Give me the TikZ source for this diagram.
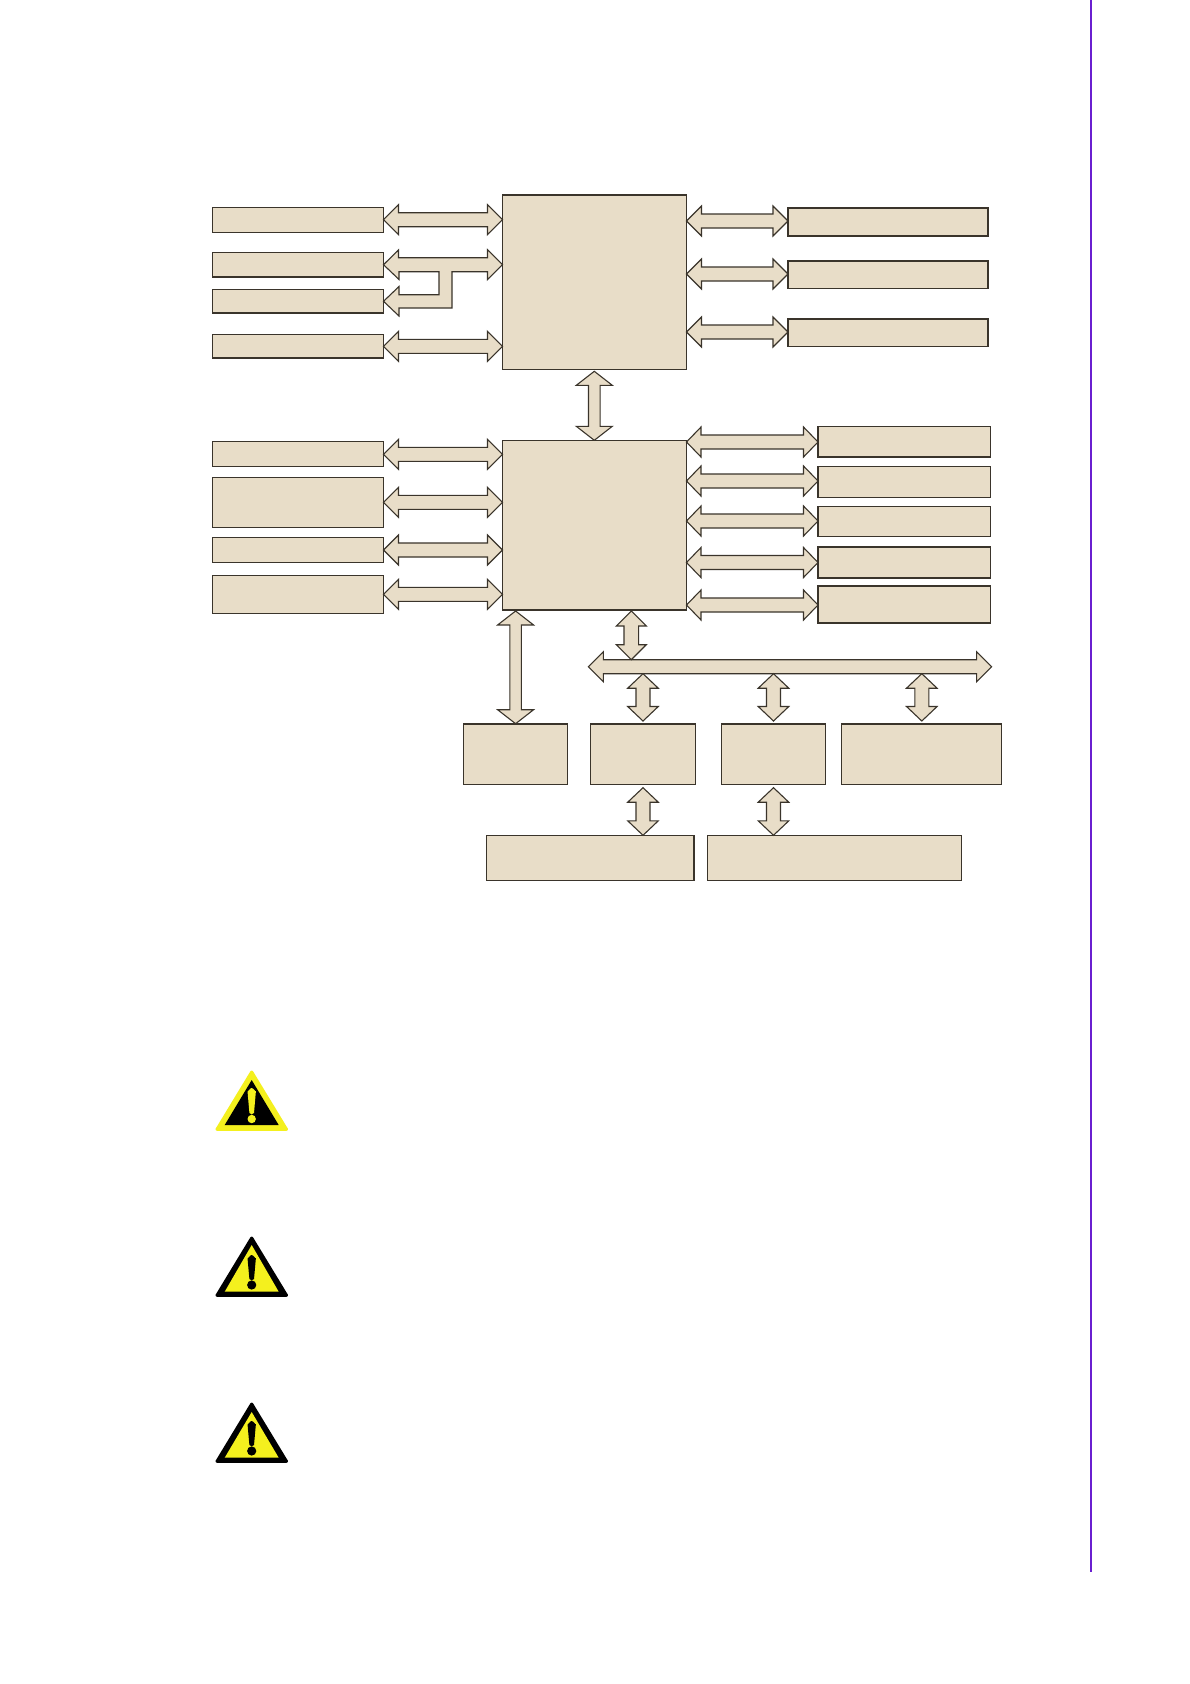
\documentclass[tikz,border=0pt]{standalone}
\usetikzlibrary{calc}
\definecolor{sand}{HTML}{E8DDC8}
\definecolor{ink}{HTML}{3A342B}
\definecolor{rulepurple}{HTML}{6A1FD0}
\definecolor{signyellow}{HTML}{F4F01E}
\tikzset{
  x=1pt,y=-1pt,
  blockbox/.style={draw=ink,fill=sand,line width=1.1pt,inner sep=0pt,outer sep=0pt},
  flow/.style={draw=ink,fill=sand,line width=1.1pt,line join=miter},
  heavyedge/.style={draw=ink,line width=2pt},
}
% \Bx{name}{x1}{y1}{x2}{y2}
\newcommand\Bx[5]{\node[blockbox,minimum width={(#4-#2)*1pt},minimum height={(#5-#3)*1pt}] (#1) at ({(#2+#4)/2},{(#3+#5)/2}) {};}
% horizontal double block arrow: left end, right end, head length, shaft half, head half
\newcommand\HDA[5]{\draw[flow] let \p1=(#1),\p2=(#2) in
  (\p1) -- ({\x1+#3pt},{\y1+#5pt}) -- ({\x1+#3pt},{\y1+#4pt}) -- ({\x2-#3pt},{\y1+#4pt}) -- ({\x2-#3pt},{\y1+#5pt}) -- (\x2,\y1)
  -- ({\x2-#3pt},{\y1-#5pt}) -- ({\x2-#3pt},{\y1-#4pt}) -- ({\x1+#3pt},{\y1-#4pt}) -- ({\x1+#3pt},{\y1-#5pt}) -- cycle;}
% vertical double block arrow: top end, bottom end, head length, shaft half, head half
\newcommand\VDA[5]{\draw[flow] let \p1=(#1),\p2=(#2) in
  (\p1) -- ({\x1+#5pt},{\y1-#3pt}) -- ({\x1+#4pt},{\y1-#3pt}) -- ({\x1+#4pt},{\y2+#3pt}) -- ({\x1+#5pt},{\y2+#3pt}) -- (\x1,\y2)
  -- ({\x1-#5pt},{\y2+#3pt}) -- ({\x1-#4pt},{\y2+#3pt}) -- ({\x1-#4pt},{\y1-#3pt}) -- ({\x1-#5pt},{\y1-#3pt}) -- cycle;}
% warning sign
\newcommand\Warn[9]{%
  \fill[#2,draw=#2,line width=3pt,line join=round] (251.7,#1+2) -- (286.5,{#1+59.3}) -- (217,{#1+59.3}) -- cycle;
  \fill[#3] (251.7,#4) -- ({251.7+#6},#5) -- ({251.7-#6},#5) -- cycle;
  \fill[#9] (247.5,#7+3) to[out=-90,in=180] (251.7,#7) to[out=0,in=-90] (255.9,#7+3)
     -- (254,#8) to[out=90,in=0] (251.7,#8+1.5) to[out=180,in=90] (249.4,#8) -- cycle;
}
\begin{document}
\begin{tikzpicture}
\useasboundingbox (0,0) rectangle (1190,1684);
\fill[white] (0,0) rectangle (1190,1684);
% margin rule
\fill[rulepurple] (1090,0) rectangle (1092,1572);

% central blocks
\Bx{MA}{502.5}{194.5}{686.5}{369.5}
\Bx{MB}{502.5}{440.3}{686.5}{610}
% left, upper
\Bx{LA}{212.5}{207.5}{383.5}{232.5}
\Bx{LB}{212.5}{252.5}{383.5}{277}
\Bx{LC}{212.5}{289.5}{383.5}{313}
\Bx{LD}{212.5}{334.5}{383.5}{358}
% left, lower
\Bx{LE}{212.5}{441.3}{383.5}{466.7}
\Bx{LF}{212.5}{477.3}{383.5}{527.3}
\Bx{LG}{212.5}{537.3}{383.5}{562.3}
\Bx{LH}{212.5}{575.3}{383.5}{613.3}
% right, upper
\Bx{RA}{788}{208}{988}{236}
\Bx{RB}{788}{261}{988}{288.5}
\Bx{RC}{788}{319}{988}{346.5}
% right, lower
\Bx{RD}{818}{426.5}{990.7}{457}
\Bx{RE}{818}{466.5}{990.7}{497.5}
\Bx{RF}{818}{506.5}{990.7}{536.5}
\Bx{RG}{818}{547}{990.7}{578}
\Bx{RH}{818}{586}{990.7}{623}
% lower row
\Bx{TA}{463.3}{723.7}{567.6}{784.3}
\Bx{TB}{590.5}{723.7}{695.6}{784.3}
\Bx{TC}{721.5}{723.7}{825.8}{784.3}
\Bx{TD}{841.5}{723.7}{1001.6}{784.3}
% bottom row
\Bx{UA}{486.5}{835.3}{694.2}{880.3}
\Bx{UB}{707.3}{835.3}{961.8}{880.3}

% heavier edges
\draw[heavyedge] (MA.north west) -- (MA.north east);
\draw[heavyedge] (MB.south west) -- (MB.south east);
\draw[heavyedge] (LB.south west) -- (LB.south east);
\draw[heavyedge] (RA.south west) -- (RA.south east);
\draw[heavyedge] (RB.north west) -- (RB.north east);
\draw[heavyedge] (TA.north west) -- (TA.north east);
\draw[heavyedge] (TB.north west) -- (TB.north east);
\draw[heavyedge] (TC.north west) -- (TC.north east);
\draw[heavyedge] (TD.north west) -- (TD.north east);
\draw[heavyedge] (UA.north east) -- (UA.south east);

% left arrows to upper block
\HDA{LA.east |- 0,219.7}{MA.west |- 0,219.7}{15}{7}{15}
\HDA{LD.east |- 0,346.3}{MA.west |- 0,346.3}{15}{7}{15}
% forked arrow
\draw[flow] let \p1=(LB.east |- 0,264.7), \p2=(MA.west |- 0,264.7), \p3=(LC.east |- 0,301.3) in
  (\p1) -- ++(15,-14.7) -- ++(0,7.7) -- ({\x2-15pt},{\y1+7pt}) -- ({\x2-15pt},{\y1+15pt}) -- (\x2,\y1)
  -- ({\x2-15pt},{\y1-15pt}) -- ({\x2-15pt},{\y1-7pt}) -- (452,271.7) -- (452,308) -- (399,308) -- (399,316)
  -- (\p3) -- (399,286.5) -- (399,294.7) -- (439,294.7) -- (439,271.7) -- (399,271.7) -- (399,279.5) -- cycle;
% left arrows to lower block
\HDA{LE.east |- 0,454.3}{MB.west |- 0,454.3}{15}{7}{15}
\HDA{LF.east |- 0,502.3}{MB.west |- 0,502.3}{15}{7}{15}
\HDA{LG.east |- 0,550}{MB.west |- 0,550}{15}{7}{15}
\HDA{LH.east |- 0,594.3}{MB.west |- 0,594.3}{15}{7}{15}
% right arrows, upper
\HDA{MA.east |- 0,221}{RA.west |- 0,221}{15}{7}{15}
\HDA{MA.east |- 0,274}{RB.west |- 0,274}{15}{7}{15}
\HDA{MA.east |- 0,332}{RC.west |- 0,332}{15}{7}{15}
% right arrows, lower
\HDA{MB.east |- 0,442}{RD.west |- 0,442}{14.5}{7}{15}
\HDA{MB.east |- 0,481}{RE.west |- 0,481}{14.5}{7}{15}
\HDA{MB.east |- 0,521}{RF.west |- 0,521}{14.5}{7}{15}
\HDA{MB.east |- 0,562.5}{RG.west |- 0,562.5}{14.5}{7}{15}
\HDA{MB.east |- 0,605}{RH.west |- 0,605}{14.5}{7}{15}
% between the central blocks
\coordinate (midtop) at (594.3,371.3);
\VDA{midtop}{594.3,0 |- MB.north}{14}{5.8}{18}
% bus
\coordinate (busleft) at (588.4,666.7);
\coordinate (busright) at (991.6,666.7);
\coordinate (bustop) at (631.3,659.7);
\coordinate (busbottom) at (0,673.7);
\HDA{busleft}{busright}{15}{7}{15}
% block to lower row and bus
\coordinate (atop) at (515.6,611);
\VDA{atop}{515.6,0 |- TA.north}{14}{5.8}{18}
\coordinate (btop) at (631.3,611);
\VDA{btop}{bustop}{15}{7.3}{15}
% bus to lower row
\coordinate (clow) at (0,721);
\VDA{643,0 |- busbottom}{643,0 |- clow}{14.5}{7}{15.3}
\VDA{773.5,0 |- busbottom}{773.5,0 |- clow}{14.5}{7}{15.3}
\VDA{921.8,0 |- busbottom}{921.8,0 |- clow}{14.5}{7}{15.3}
% lower row to bottom row
\coordinate (ftop) at (0,787.7);
\VDA{643,0 |- ftop}{643,0 |- UA.north}{14.5}{7}{15.3}
\VDA{773.5,0 |- ftop}{773.5,0 |- UB.north}{14.5}{7}{15.3}

% warning signs
\Warn{1070}{signyellow}{black}{1080}{1125}{27}{1088}{1113}{signyellow}
\fill[signyellow] (251.7,1119) circle (4.2);
\Warn{1236}{black}{signyellow}{1245}{1291.7}{27}{1255}{1279}{black}
\fill[black] (251.7,1285) circle (4.6);
\Warn{1402}{black}{signyellow}{1412}{1457.7}{27}{1421}{1445}{black}
\fill[black] (251.7,1451) circle (4.6);
\end{tikzpicture}
\end{document}
